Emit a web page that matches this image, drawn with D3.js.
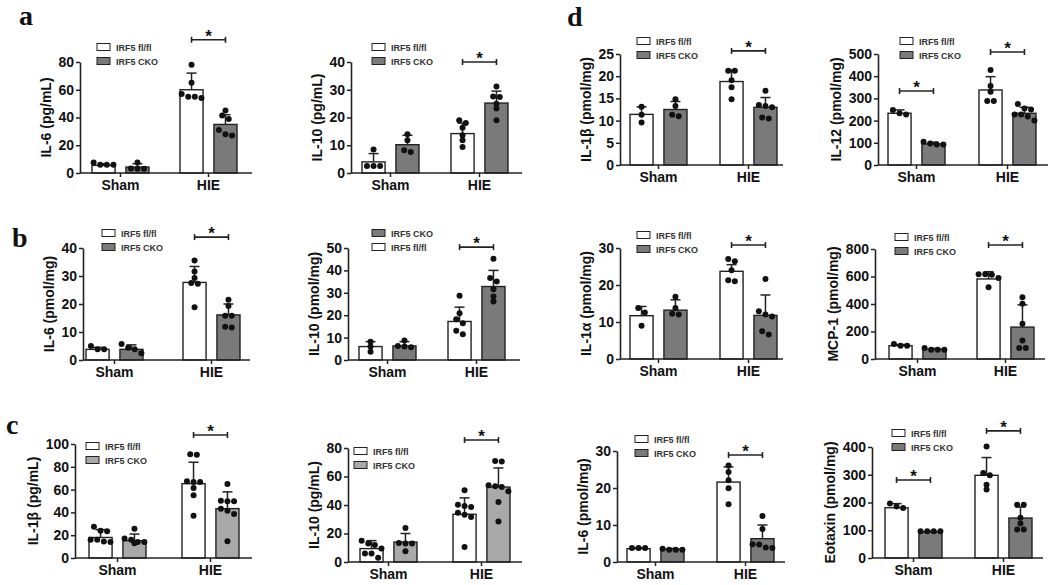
<!DOCTYPE html>
<html><head><meta charset="utf-8">
<script src="https://cdn.jsdelivr.net/npm/d3@7"></script>
<style>body{margin:0;background:#fff}svg{display:block}</style>
</head><body>
<svg id="chart" width="1050" height="585"></svg>
<script>
// ---------- shared categories ----------
const groups = ["Sham", "HIE"];
const series = ["IRF5 fl/fl", "IRF5 CKO"];
// value order in each array: [Sham fl/fl, Sham CKO, HIE fl/fl, HIE CKO]

// ---------- panel a (left) ----------
const aIL6Label = "IL-6 (pg/mL)";
const aIL6Ticks = [0, 20, 40, 60, 80];
const aIL6Mean = [5.5, 4.3, 60, 35];
const aIL6Sd = [1.2, 2.4, 12, 7];
const aIL6Pts = [[6, 6, 6, 7.5], [3, 3, 3.2, 7.5], [78, 65, 57, 55, 54, 55], [45, 41.5, 39, 31, 27, 28]];
const aIL6Sig = [["HIE", 96]];

// ---------- panel a (right) ----------
const aIL10Label = "IL-10 (pg/mL)";
const aIL10Ticks = [0, 10, 20, 30, 40];
const aIL10Mean = [4, 10.2, 14.2, 25.2];
const aIL10Sd = [3, 3.4, 3.8, 4.3];
const aIL10Pts = [[8.5, 2.5, 2.5, 2.5], [14, 11.8, 7.6, 8.2], [19, 18, 16.3, 13.6, 11.8, 9.4], [31.2, 27.6, 27.4, 25, 23.2, 19]];
const aIL10Sig = [["HIE", 40]];

// ---------- panel b (left) ----------
const bIL6Label = "IL-6 (pmol/mg)";
const bIL6Ticks = [0, 10, 20, 30, 40];
const bIL6Mean = [3.8, 3.8, 27.7, 16.1];
const bIL6Sd = [0.7, 1.6, 5.7, 3.9];
const bIL6Pts = [[5, 3.8, 3.8], [5.7, 4.4, 3.8, 2.4], [35.5, 31.6, 29.3, 27.2, 27.5, 18.8], [21.5, 19.3, 15.8, 15.8, 11.9, 11.6]];
const bIL6Sig = [["HIE", 43.9]];

// ---------- panel b (right) ----------
const bIL10Label = "IL-10 (pmol/mg)";
const bIL10Ticks = [0, 10, 20, 30, 40, 50];
const bIL10Mean = [6, 6.3, 17.2, 32.8];
const bIL10Sd = [2.2, 1.9, 6.4, 7.2];
const bIL10Pts = [[8.2, 6, 3.7], [8.7, 6.3, 5.7, 6], [28.7, 20.9, 18.2, 16.4, 13.1, 11.5], [45.2, 36.6, 35, 31.6, 28.4, 26.1]];
const bIL10Sig = [["HIE", 50.4]];

// ---------- panel c (left) ----------
const cIL1bLabel = "IL-1\u03b2 (pg/mL)";
const cIL1bTicks = [0, 20, 40, 60, 80, 100];
const cIL1bMean = [18, 15.2, 65.2, 43.3];
const cIL1bSd = [6.9, 5.8, 18.8, 14.7];
const cIL1bPts = [[27.5, 23.5, 24, 16, 16, 14, 14.5], [25.7, 16, 17, 14, 14, 13], [91, 90.6, 66.7, 66.7, 67.3, 61.4, 55, 37], [65, 50.3, 49.7, 49.7, 43.3, 41.5, 38.6, 14.6]];
const cIL1bSig = [["HIE", 107.9]];

// ---------- panel c (right) ----------
const cIL10Label = "IL-10 (pg/mL)";
const cIL10Ticks = [0, 20, 40, 60, 80];
const cIL10Mean = [9.4, 14, 33.5, 52.6];
const cIL10Sd = [5.6, 6, 11.5, 13.4];
const cIL10Pts = [[15, 13, 12, 9.5, 6, 6, 3], [23.9, 13.3, 12.9, 12.9, 7.5], [50.3, 40.2, 39.3, 38.6, 34.6, 33.2, 31.6, 10.5], [70.9, 70.6, 53.8, 52.6, 53.1, 49.6, 42.1, 28.5]];
const cIL10Sig = [["HIE", 85.6]];

// ---------- panel d ----------
const dIL1bLabel = "IL-1\u03b2 (pmol/mg)";
const dIL1bTicks = [0, 5, 10, 15, 20, 25];
const dIL1bMean = [11.4, 12.5, 18.8, 13];
const dIL1bSd = [1.7, 1.8, 2.6, 2.2];
const dIL1bPts = [[13.1, 11.3, 9.6], [14.8, 13.3, 11, 11.3], [21.2, 21.2, 19.1, 17.5, 14.8], [16.7, 13.5, 13.3, 13, 10.5, 10.7]];
const dIL1bSig = [["HIE", 25.7]];

const dIL12Label = "IL-12 (pmol/mg)";
const dIL12Ticks = [0, 100, 200, 300, 400, 500];
const dIL12Mean = [233, 95, 338, 233];
const dIL12Sd = [15, 8, 60, 27];
const dIL12Pts = [[248, 228, 233], [97, 92, 92, 105], [428, 356, 330, 288, 288], [275, 255, 250, 228, 228, 218, 200]];
const dIL12Sig = [["Sham", 333], ["HIE", 509]];

const dIL1aLabel = "IL-1\u03b1 (pmol/mg)";
const dIL1aTicks = [0, 10, 20, 30];
const dIL1aMean = [11.7, 13.2, 23.7, 11.8];
const dIL1aSd = [2.5, 2.8, 1.8, 5.5];
const dIL1aPts = [[13.8, 12.6, 9], [16.8, 13.8, 12, 12.2], [26.4, 27, 24, 21, 21.3], [21.6, 12.9, 12, 11.5, 7.5, 6.6]];
const dIL1aSig = [["HIE", 30.8]];

const dMCPLabel = "MCP-1 (pmol/mg)";
const dMCPTicks = [0, 200, 400, 600, 800];
const dMCPMean = [97, 72, 582, 232];
const dMCPSd = [8, 5, 53, 162];
const dMCPPts = [[109, 97, 97], [68, 68, 68, 80], [616, 616, 612, 590, 522], [449, 401, 256, 135, 80, 80]];
const dMCPSig = [["HIE", 829]];

const dIL6Label = "IL-6 (pmol/mg)";
const dIL6Ticks = [0, 10, 20, 30];
const dIL6Mean = [3.6, 3.5, 21.6, 6.3];
const dIL6Sd = [0.2, 0.15, 4.1, 3.7];
const dIL6Pts = [[3.8, 3.8, 3.8], [3.3, 3.3, 3.3, 3.6], [26.1, 24.3, 22.1, 19.9, 15.6], [12.4, 8.9, 4.7, 3.8, 3.9, 4.8]];
const dIL6Sig = [["HIE", 28.9]];

const dEotLabel = "Eotaxin (pmol/mg)";
const dEotTicks = [0, 100, 200, 300, 400];
const dEotMean = [181, 94, 298, 144];
const dEotSd = [15, 3, 64, 40];
const dEotPts = [[196, 180, 186], [96, 96, 96, 96], [402, 306, 298, 264, 247], [192, 192, 145, 124, 103, 103]];
const dEotSig = [["Sham", 281], ["HIE", 458]];

// ---------- layout (positions only) ----------
const panels = [
  {label: aIL6Label, ticks: aIL6Ticks, mean: aIL6Mean, sd: aIL6Sd, pts: aIL6Pts, sig: aIL6Sig, legOrder: [0, 1], light: false,
   x0: 80, top: 62, base: 173, end: 172, barL: 12, barR: 157, legX: 97, legY: 47},
  {label: aIL10Label, ticks: aIL10Ticks, mean: aIL10Mean, sd: aIL10Sd, pts: aIL10Pts, sig: aIL10Sig, legOrder: [0, 1], light: false,
   x0: 351, top: 62, base: 173, end: 171, barL: 11, barR: 157, legX: 372, legY: 47},
  {label: dIL1bLabel, ticks: dIL1bTicks, mean: dIL1bMean, sd: dIL1bSd, pts: dIL1bPts, sig: dIL1bSig, legOrder: [0, 1], light: false,
   x0: 620, top: 54, base: 165, end: 163, barL: 10, barR: 157, legX: 637, legY: 41},
  {label: dIL12Label, ticks: dIL12Ticks, mean: dIL12Mean, sd: dIL12Sd, pts: dIL12Pts, sig: dIL12Sig, legOrder: [0, 1], light: false,
   x0: 878, top: 54, base: 165, end: 170, barL: 10, barR: 158, legX: 900, legY: 41},
  {label: bIL6Label, ticks: bIL6Ticks, mean: bIL6Mean, sd: bIL6Sd, pts: bIL6Pts, sig: bIL6Sig, legOrder: [0, 1], light: false,
   x0: 83, top: 248, base: 360, end: 167, barL: 3, barR: 157, legX: 102, legY: 233},
  {label: bIL10Label, ticks: bIL10Ticks, mean: bIL10Mean, sd: bIL10Sd, pts: bIL10Pts, sig: bIL10Sig, legOrder: [1, 0], light: false,
   x0: 348, top: 248, base: 360, end: 172, barL: 11, barR: 157, legX: 372, legY: 233},
  {label: dIL1aLabel, ticks: dIL1aTicks, mean: dIL1aMean, sd: dIL1aSd, pts: dIL1aPts, sig: dIL1aSig, legOrder: [0, 1], light: false,
   x0: 620, top: 248, base: 359, end: 163, barL: 10, barR: 157, legX: 637, legY: 235},
  {label: dMCPLabel, ticks: dMCPTicks, mean: dMCPMean, sd: dMCPSd, pts: dMCPPts, sig: dMCPSig, legOrder: [0, 1], light: false,
   x0: 875, top: 249, base: 359, end: 170, barL: 14, barR: 159, legX: 895, legY: 237},
  {label: cIL1bLabel, ticks: cIL1bTicks, mean: cIL1bMean, sd: cIL1bSd, pts: cIL1bPts, sig: cIL1bSig, legOrder: [0, 1], light: true,
   x0: 75, top: 444, base: 558, end: 177, barL: 14, barR: 164, legX: 86, legY: 446},
  {label: cIL10Label, ticks: cIL10Ticks, mean: cIL10Mean, sd: cIL10Sd, pts: cIL10Pts, sig: cIL10Sig, legOrder: [0, 1], light: true,
   x0: 348, top: 448, base: 562, end: 174, barL: 12, barR: 162, legX: 354, legY: 451},
  {label: dIL6Label, ticks: dIL6Ticks, mean: dIL6Mean, sd: dIL6Sd, pts: dIL6Pts, sig: dIL6Sig, legOrder: [0, 1], light: false,
   x0: 617, top: 451, base: 562, end: 168, barL: 10, barR: 157, legX: 635, legY: 439},
  {label: dEotLabel, ticks: dEotTicks, mean: dEotMean, sd: dEotSd, pts: dEotPts, sig: dEotSig, legOrder: [0, 1], light: false,
   x0: 872, top: 447, base: 558, end: 171, barL: 13, barR: 160, legX: 892, legY: 433}
];
const panelLetters = [["a", 19, 25], ["b", 12, 247], ["c", 6, 434], ["d", 567, 26]];

// ---------- drawing ----------
const svg = d3.select("#chart");
svg.append("rect").attr("width", 1050).attr("height", 585).attr("fill", "#fff");
const FONT = "'Liberation Sans', Arial, Helvetica, sans-serif";
const INK = "#222";

function swarm(vals, y, spacing) {
  const items = vals.map(v => ({v, py: y(v)})).sort((a, b) => a.py - b.py);
  const clusters = [];
  let cur = null;
  items.forEach(it => {
    if (cur && it.py - cur[cur.length - 1].py < 4.5 && cur.length < 4) cur.push(it);
    else { cur = [it]; clusters.push(cur); }
  });
  clusters.forEach(c => c.forEach((it, i) => { it.dx = (i - (c.length - 1) / 2) * spacing; }));
  return items;
}

panels.forEach(p => {
  const g = svg.append("g");
  const y = d3.scaleLinear().domain([0, p.ticks[p.ticks.length - 1]]).range([p.base, p.top]);
  const gw = 57;
  const span = p.barR - p.barL;
  const stepG = span - gw;
  const xg = d3.scaleBand().domain(groups).range([p.x0 + p.barL, p.x0 + p.barR])
    .paddingInner(1 - gw / stepG).paddingOuter(0);
  const xs = d3.scaleBand().domain(series).range([0, xg.bandwidth()]).paddingInner(0.32);
  const fills = ["#ffffff", p.light ? "#a9a9a9" : "#7a7a7a"];

  const rows = [];
  groups.forEach((gr, gi) => series.forEach((se, si) => {
    const k = gi * 2 + si;
    rows.push({gr, se, si, mean: p.mean[k], sd: p.sd[k], pts: p.pts[k]});
  }));

  // bars
  g.selectAll("rect.bar").data(rows).join("rect").attr("class", "bar")
    .attr("x", d => xg(d.gr) + xs(d.se))
    .attr("y", d => y(d.mean))
    .attr("width", xs.bandwidth())
    .attr("height", d => y(0) - y(d.mean))
    .attr("fill", d => fills[d.si])
    .attr("stroke", INK).attr("stroke-width", 1.4);

  // error bars (upper)
  const cx = d => xg(d.gr) + xs(d.se) + xs.bandwidth() / 2;
  g.selectAll("line.err").data(rows).join("line").attr("class", "err")
    .attr("x1", cx).attr("x2", cx)
    .attr("y1", d => y(d.mean)).attr("y2", d => y(d.mean + d.sd))
    .attr("stroke", INK).attr("stroke-width", 1.5);
  g.selectAll("line.cap").data(rows).join("line").attr("class", "cap")
    .attr("x1", d => cx(d) - 5).attr("x2", d => cx(d) + 5)
    .attr("y1", d => y(d.mean + d.sd)).attr("y2", d => y(d.mean + d.sd))
    .attr("stroke", INK).attr("stroke-width", 1.5);

  // points
  rows.forEach(r => {
    const sw = swarm(r.pts, y, 6.6);
    g.selectAll(null).data(sw).join("circle")
      .attr("cx", d => cx(r) + d.dx).attr("cy", d => d.py)
      .attr("r", 3).attr("fill", "#111");
  });

  // y axis
  const ya = g.append("g").attr("transform", `translate(${p.x0},0)`)
    .call(d3.axisLeft(y).tickValues(p.ticks).tickSize(4).tickSizeOuter(0).tickPadding(2).tickFormat(d3.format("d")));
  ya.select(".domain").attr("stroke", INK).attr("stroke-width", 1.6);
  ya.selectAll(".tick line").attr("stroke", INK).attr("stroke-width", 1.5);
  ya.selectAll(".tick text").attr("font-family", FONT).attr("font-weight", "bold")
    .attr("font-size", 14).attr("fill", "#111");

  // x axis
  g.append("line").attr("x1", p.x0).attr("x2", p.x0 + p.end)
    .attr("y1", p.base).attr("y2", p.base).attr("stroke", INK).attr("stroke-width", 1.6);
  const xa = g.append("g").attr("transform", `translate(0,${p.base})`)
    .call(d3.axisBottom(xg).tickSize(4).tickSizeOuter(0).tickPadding(3));
  xa.select(".domain").remove();
  xa.selectAll(".tick line").attr("stroke", INK).attr("stroke-width", 1.5);
  xa.selectAll(".tick text").attr("font-family", FONT).attr("font-weight", "bold")
    .attr("font-size", 14).attr("fill", "#111");

  // y label
  const bb = ya.node().getBBox();
  g.append("text")
    .attr("transform", `translate(${p.x0 + bb.x - 12},${(p.top + p.base) / 2}) rotate(-90)`)
    .attr("text-anchor", "middle").attr("dy", "0.3em")
    .attr("font-family", FONT).attr("font-weight", "bold").attr("font-size", 14).attr("fill", "#111")
    .text(p.label);

  // significance
  p.sig.forEach(([gr, v]) => {
    const x1 = xg(gr) + xs(series[0]) + xs.bandwidth() / 2;
    const x2 = xg(gr) + xs(series[1]) + xs.bandwidth() / 2;
    const yy = y(v);
    g.append("line").attr("x1", x1).attr("x2", x2).attr("y1", yy).attr("y2", yy)
      .attr("stroke", INK).attr("stroke-width", 1.6);
    [x1, x2].forEach(xx => g.append("line").attr("x1", xx).attr("x2", xx)
      .attr("y1", yy - 3).attr("y2", yy + 3).attr("stroke", INK).attr("stroke-width", 1.6));
    g.append("text").attr("x", (x1 + x2) / 2).attr("y", yy + 2).attr("text-anchor", "middle")
      .attr("font-family", FONT).attr("font-weight", "bold").attr("font-size", 17).attr("fill", "#111").text("*");
  });

  // legend
  p.legOrder.forEach((si, i) => {
    const ly = p.legY + i * 14;
    g.append("rect").attr("x", p.legX).attr("y", ly - 3.5).attr("width", 13).attr("height", 7)
      .attr("fill", fills[si]).attr("stroke", INK).attr("stroke-width", 1);
    g.append("text").attr("x", p.legX + 19).attr("y", ly + 3.5)
      .attr("font-family", FONT).attr("font-weight", "bold").attr("font-size", 9).attr("fill", "#333")
      .text(series[si]);
  });
});

// panel letters
svg.selectAll("text.letter").data(panelLetters).join("text").attr("class", "letter")
  .attr("x", d => d[1]).attr("y", d => d[2])
  .attr("font-family", "'Liberation Serif', 'Times New Roman', serif")
  .attr("font-weight", "bold").attr("font-size", 28).attr("fill", "#111")
  .text(d => d[0]);
</script>
</body></html>
